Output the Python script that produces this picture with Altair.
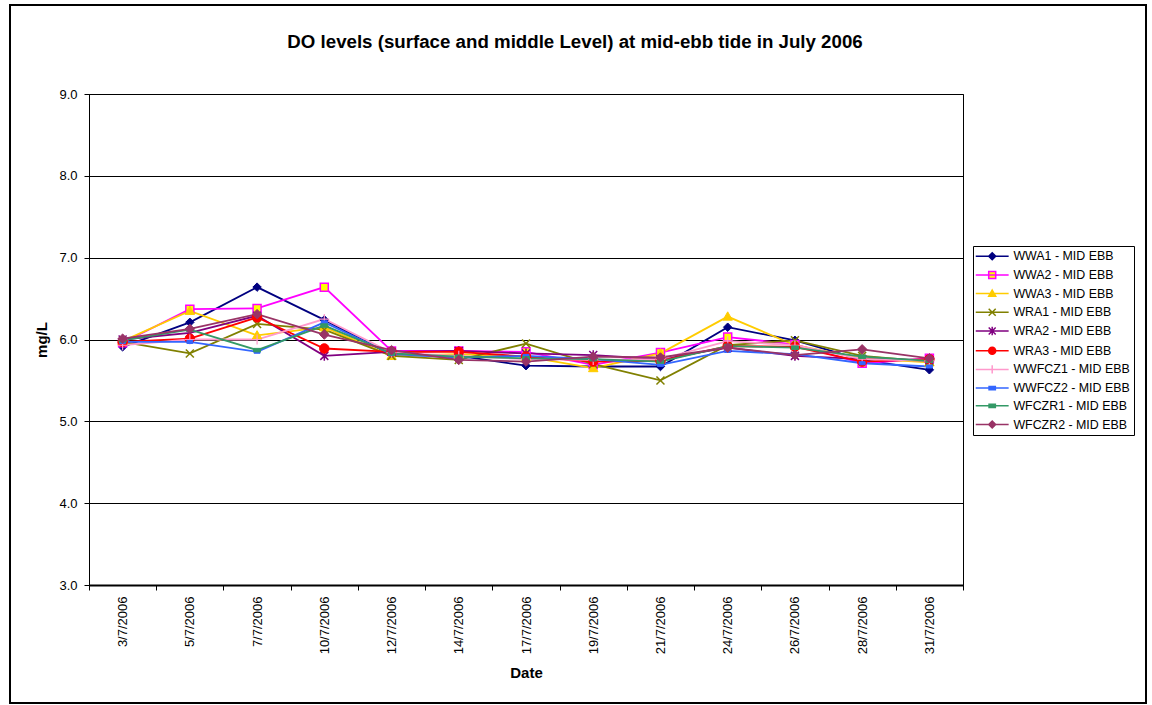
import altair as alt
import pandas as pd

dates = ["3/7/2006", "5/7/2006", "7/7/2006", "10/7/2006", "12/7/2006", "14/7/2006",
         "17/7/2006", "19/7/2006", "21/7/2006", "24/7/2006", "26/7/2006", "28/7/2006",
         "31/7/2006"]

series = ["WWA1 - MID EBB", "WWA2 - MID EBB", "WWA3 - MID EBB", "WRA1 - MID EBB",
          "WRA2 - MID EBB", "WRA3 - MID EBB", "WWFCZ1 - MID EBB", "WWFCZ2 - MID EBB",
          "WFCZR1 - MID EBB", "WFCZR2 - MID EBB"]

wwa1 = [5.91, 6.21, 6.64, 6.24, 5.81, 5.80, 5.68, 5.67, 5.67, 6.15, 5.99, 5.75, 5.63]
wwa2 = [5.96, 6.37, 6.38, 6.64, 5.86, 5.86, 5.85, 5.69, 5.84, 6.03, 5.94, 5.71, 5.77]
wwa3 = [5.98, 6.35, 6.05, 6.15, 5.80, 5.82, 5.79, 5.65, 5.83, 6.28, 5.93, 5.77, 5.72]
wra1 = [5.97, 5.83, 6.19, 6.12, 5.80, 5.75, 5.95, 5.70, 5.50, 5.93, 5.99, 5.80, 5.73]
wra2 = [6.00, 6.08, 6.29, 5.80, 5.85, 5.86, 5.83, 5.81, 5.76, 5.90, 5.80, 5.76, 5.75]
wra3 = [5.97, 6.01, 6.27, 5.89, 5.85, 5.85, 5.79, 5.73, 5.74, 5.92, 5.91, 5.73, 5.76]
wwfcz1 = [5.93, 6.00, 6.00, 6.25, 5.84, 5.80, 5.76, 5.75, 5.76, 5.98, 5.93, 5.76, 5.74]
wwfcz2 = [5.97, 5.97, 5.85, 6.21, 5.82, 5.78, 5.80, 5.76, 5.69, 5.86, 5.82, 5.71, 5.67]
wfczr1 = [5.99, 6.12, 5.87, 6.17, 5.83, 5.79, 5.77, 5.76, 5.73, 5.92, 5.90, 5.79, 5.74]
wfczr2 = [6.01, 6.13, 6.31, 6.06, 5.87, 5.75, 5.73, 5.79, 5.78, 5.90, 5.81, 5.88, 5.77]

all_values = [wwa1, wwa2, wwa3, wra1, wra2, wra3, wwfcz1, wwfcz2, wfczr1, wfczr2]

colors = ["#000080", "#FF00FF", "#FFCC00", "#808000", "#800080", "#FF0000",
          "#FF99CC", "#3366FF", "#339966", "#993366"]
fills = ["#000080", "#FFFF00", "#FFCC00", "transparent", "transparent", "#FF0000",
         "transparent", "#3366FF", "#339966", "#993366"]

CIRCLE = "M-1,0A1,1,0,1,1,1,0A1,1,0,1,1,-1,0Z"
marker_paths = [
    "M-1,0L0,-1L1,0L0,1Z",
    "M-1,-1H1V1H-1Z",
    "M0,-1L1,0.75L-1,0.75Z",
    "M-1,-1L1,1M-1,1L1,-1",
    "M-1,-1L1,1M-1,1L1,-1M0,-1.2V1.2",
    CIRCLE,
    "M-1,0H1M0,-1V1",
    "M-1,-0.5H1V0.5H-1Z",
    "M-1,-0.5H1V0.5H-1Z",
    "M-1,0L0,-1L1,0L0,1Z",
]
marker_sizes = [72, 64, 90, 64, 64, 90, 100, 36, 49, 90]
marker_strokes = [1, 1.5, 1, 1.5, 1.5, 1, 1.2, 1, 1, 1]

SEG = "M-4.7,0H4.7"
legend_paths = [SEG + p for p in [
    "M-1,0L0,-1L1,0L0,1Z",
    "M-1,-1H1V1H-1Z",
    "M0,-1L1,0.75L-1,0.75Z",
    "M-1,-1L1,1M-1,1L1,-1",
    "M-1,-1L1,1M-1,1L1,-1M0,-1.2V1.2",
    CIRCLE,
    "M0,-1.2V1.2",
    "M-0.9,-0.45H0.9V0.45H-0.9Z",
    "M-0.9,-0.45H0.9V0.45H-0.9Z",
    "M-1,0L0,-1L1,0L0,1Z",
]]

rows = []
for s, vals in zip(series, all_values):
    for i, (d, v) in enumerate(zip(dates, vals)):
        rows.append({"date": d, "idx": i, "series": s, "value": v})
df = pd.DataFrame(rows)

FONT = "Liberation Sans"

x_enc = alt.X(
    "date:N", sort=dates, bandPosition=0.5,
    scale=alt.Scale(type="band", paddingInner=0, paddingOuter=0),
    axis=alt.Axis(title="Date", labelAngle=-90, labelAlign="right", labelBaseline="middle",
                  tickBand="extent", labelFontSize=13, labelPadding=6, tickSize=5,
                  titleFontSize=15, titleFontWeight="bold", titlePadding=12,
                  domainWidth=2),
)
y_enc = alt.Y(
    "value:Q",
    scale=alt.Scale(domain=[3, 9], nice=False, zero=False),
    axis=alt.Axis(title="mg/L", values=[3, 4, 5, 6, 7, 8, 9], format=".1f", grid=True,
                  labelFontSize=13, labelPadding=7, tickSize=5,
                  titleFontSize=15, titleFontWeight="bold", titlePadding=9),
)

base = alt.Chart(df)

frame = alt.Chart(alt.Data(values=[{"a": 1}])).mark_rect(
    fillOpacity=0, stroke="black", strokeWidth=2
).encode(x=alt.value(-79), x2=alt.value(1057), y=alt.value(-89), y2=alt.value(609))

line_layers = []
point_layers = []
for i, s in enumerate(series):
    sub = base.transform_filter(alt.datum.series == s)
    line_layers.append(
        sub.mark_line(strokeWidth=1.8, color=colors[i]).encode(
            x=x_enc, y=y_enc, order=alt.Order("idx:Q"))
    )
    point_layers.append(
        sub.mark_point(
            shape=marker_paths[i], size=marker_sizes[i], fill=fills[i], stroke=colors[i],
            strokeWidth=marker_strokes[i], opacity=1, fillOpacity=1, strokeOpacity=1,
        ).encode(x=x_enc, y=y_enc)
    )

legend_def = alt.Legend(
    title=None, orient="none", legendX=884, legendY=152,
    strokeColor="black", fillColor="white", padding=4,
    labelFont=FONT, labelFontSize=12.4, labelColor="black", labelLimit=300,
    symbolSize=49, symbolStrokeWidth=1.5, symbolOffset=9, labelOffset=15, rowPadding=4.7,
    symbolOpacity=1,
)

legend_layer = base.mark_point(size=49, strokeWidth=1.5, opacity=0).encode(
    x=x_enc, y=y_enc,
    shape=alt.Shape("series:N", scale=alt.Scale(domain=series, range=legend_paths), legend=legend_def),
    stroke=alt.Stroke("series:N", scale=alt.Scale(domain=series, range=colors), legend=legend_def),
    fill=alt.Fill("series:N", scale=alt.Scale(domain=series, range=fills), legend=legend_def),
)

chart = alt.layer(frame, *line_layers, *point_layers, legend_layer).properties(
    width=874, height=491,
    background="white",
    padding={"left": 9, "top": 4, "right": 0, "bottom": 0},
    title=alt.TitleParams(
        text="DO levels (surface and middle Level) at mid-ebb tide in July 2006",
        font=FONT, fontSize=18.7, fontWeight="bold", color="black",
        anchor="middle", frame="group", dx=49, offset=-48,
    ),
).configure_view(stroke="black", strokeWidth=1).configure_axis(
    labelFont=FONT, titleFont=FONT, labelColor="black", titleColor="black",
    domainColor="black", tickColor="black", gridColor="black", gridWidth=1,
    gridOpacity=1,
)

chart.save("out.html", embed_options={"renderer": "svg", "actions": False})
